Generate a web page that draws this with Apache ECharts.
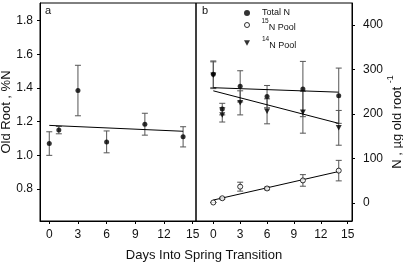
<!DOCTYPE html>
<html>
<head>
<meta charset="utf-8">
<script src="https://cdn.jsdelivr.net/npm/echarts@6/dist/echarts.min.js"></script>
<style>
html,body{margin:0;padding:0;background:#fff;}
#c{width:403px;height:263px;}
</style>
</head>
<body>
<div id="c"></div>
<script>
// ---- data ----
const days = [0, 1, 3, 6, 10, 14];
const pctN = [1.07, 1.15, 1.385, 1.08, 1.185, 1.11];
const pctNErr = [0.07, 0.022, 0.15, 0.065, 0.065, 0.06];
const totalN = [289, 211, 262, 239, 256, 241];
const totalNErr = [30, 13, 35, 25, 62, 62];
const n15 = [1.5, 11, 37, 33, 51, 73];
const n15Err = [0, 2, 10, 3, 13, 23];
const n14 = [287, 198, 225, 206, 204, 169];
const n14Err = [30, 16, 27, 28, 47, 39];
const pctNFit = [[0, 1.178], [14, 1.143]];
const totalNFit = [[0, 259], [14, 249]];
const n14Fit = [[0, 252], [14, 179]];
const n15Fit = [[0, 7], [14, 71]];
const xTicks = [0, 3, 6, 9, 12, 15];
const leftYTicks = [0.8, 1.0, 1.2, 1.4, 1.6, 1.8];
const rightYTicks = [0, 100, 200, 300, 400];

const FONT = 'Liberation Sans, Arial, sans-serif';
const pts = (ys) => days.map((d, i) => [d, ys[i]]);
const errs = (ys, es) => days.map((d, i) => [d, ys[i] - es[i], ys[i] + es[i]]);

function errRender(params, api) {
  const x = api.value(0), lo = api.value(1), hi = api.value(2);
  const p1 = api.coord([x, lo]), p2 = api.coord([x, hi]);
  const w = 3;
  const st = { stroke: '#555', lineWidth: 1 };
  return {
    type: 'group',
    children: [
      { type: 'line', shape: { x1: p1[0], y1: p1[1], x2: p2[0], y2: p2[1] }, style: st },
      { type: 'line', shape: { x1: p1[0] - w, y1: p1[1], x2: p1[0] + w, y2: p1[1] }, style: st },
      { type: 'line', shape: { x1: p2[0] - w, y1: p2[1], x2: p2[0] + w, y2: p2[1] }, style: st }
    ]
  };
}

const tri = 'path://M0,0L10,0L5,9Z';
const axisCommon = {
  axisLine: { show: true, onZero: false, lineStyle: { color: '#000', width: 1 } },
  splitLine: { show: false },
};

const xAxisBase = (gi, min, max) => Object.assign({
  type: 'value', gridIndex: gi, min: min, max: max,
  axisTick: { show: true, length: 3, inside: false, customValues: xTicks, lineStyle: { color: '#000' } },
  axisLabel: { customValues: xTicks, margin: 8, fontSize: 12, color: '#111', fontFamily: FONT },
}, axisCommon);

const lineSeries = (xi, data) => ({
  type: 'line', xAxisIndex: xi, yAxisIndex: xi, data: data, symbol: 'none',
  lineStyle: { color: '#000', width: 1 }, z: 3, silent: true, animation: false
});
const errSeries = (xi, data) => ({
  type: 'custom', xAxisIndex: xi, yAxisIndex: xi, data: data, renderItem: errRender,
  encode: { x: 0, y: [1, 2] }, z: 2, silent: true, animation: false
});

const legendRich = {
  p: { width: 7 },
  t: { fontSize: 9, fontFamily: FONT, color: '#111', lineHeight: 11 },
  sup: { fontSize: 6.5, fontFamily: FONT, color: '#111', lineHeight: 14, verticalAlign: 'top' },
  n: { fontSize: 9, fontFamily: FONT, color: '#111', lineHeight: 14, verticalAlign: 'bottom' }
};
const legendFmt = (name) => {
  if (name === 'Total N') return '{p|}{t|Total N}';
  if (name === '15N Pool') return '{p|}{sup|15}{n|N Pool}';
  return '{p|}{sup|14}{n|N Pool}';
};
const mkLegend = (name, top, extra) => Object.assign({
  data: [name], left: 244, top: top, orient: 'vertical', itemWidth: 6, itemHeight: 6,
  padding: 0, formatter: legendFmt, textStyle: { rich: legendRich }, selectedMode: false
}, extra || {});

const option = {
  animation: false,
  backgroundColor: '#fff',
  textStyle: { fontFamily: FONT },
  grid: [
    { left: 40, top: 3, width: 156, height: 218, show: true, borderColor: '#000', borderWidth: 1, backgroundColor: 'transparent' },
    { left: 196, top: 3, width: 156, height: 218, show: true, borderColor: '#000', borderWidth: 1, backgroundColor: 'transparent' }
  ],
  xAxis: [xAxisBase(0, -0.97, 15.35), xAxisBase(1, -1.93, 15.48)],
  yAxis: [
    Object.assign({
      type: 'value', gridIndex: 0, min: 0.61, max: 1.905, position: 'left',
      axisTick: { show: true, length: 3, customValues: leftYTicks, lineStyle: { color: '#000' } },
      axisLabel: { customValues: leftYTicks, margin: 7, fontSize: 12, color: '#111', fontFamily: FONT, formatter: v => v.toFixed(1) }
    }, axisCommon),
    Object.assign({
      type: 'value', gridIndex: 1, min: -40, max: 449, position: 'right',
      axisTick: { show: true, length: 3, customValues: rightYTicks, lineStyle: { color: '#000' } },
      axisLabel: { customValues: rightYTicks, margin: 11, fontSize: 12, color: '#111', fontFamily: FONT }
    }, axisCommon)
  ],
  legend: [
    mkLegend('Total N', 7),
    mkLegend('15N Pool', 18, { itemWidth: 5, itemHeight: 5, itemStyle: { borderWidth: 1, borderColor: '#000', color: '#fff' } }),
    mkLegend('14N Pool', 36)
  ],
  title: [
    { text: 'a', left: 45, top: 5, padding: 0, textStyle: { fontSize: 11, fontWeight: 'normal', color: '#111', fontFamily: FONT } },
    { text: 'b', left: 202, top: 5, padding: 0, textStyle: { fontSize: 11, fontWeight: 'normal', color: '#111', fontFamily: FONT } },
    { text: 'Days Into Spring Transition', left: 204, top: 249, textAlign: 'center', padding: 0, textStyle: { fontSize: 13, fontWeight: 'normal', color: '#111', fontFamily: FONT } }
  ],
  graphic: [
    { type: 'text', x: 6, y: 112, rotation: Math.PI / 2,
      style: { text: 'Old Root , %N', fill: '#111', font: '13px ' + FONT, align: 'center', verticalAlign: 'middle', textAlign: 'center', textVerticalAlign: 'middle' } },
    { type: 'text', x: 395, y: 122, rotation: Math.PI / 2,
      style: { text: '{m|N , µg old root }{s|-1}', fill: '#111', align: 'center', verticalAlign: 'middle', textAlign: 'center', textVerticalAlign: 'middle',
        rich: { m: { fontSize: 13, fontFamily: FONT, fill: '#111', lineHeight: 18, verticalAlign: 'bottom' },
                s: { fontSize: 9, fontFamily: FONT, fill: '#111', lineHeight: 18, verticalAlign: 'top' } } } }
  ],
  series: [
    lineSeries(0, pctNFit),
    errSeries(0, errs(pctN, pctNErr)),
    { name: '%N', type: 'scatter', xAxisIndex: 0, yAxisIndex: 0, data: pts(pctN), symbol: 'circle', symbolSize: 5,
      itemStyle: { color: '#000' }, z: 5 },
    lineSeries(1, totalNFit),
    lineSeries(1, n14Fit),
    lineSeries(1, n15Fit),
    errSeries(1, errs(totalN, totalNErr)),
    errSeries(1, errs(n14, n14Err)),
    errSeries(1, errs(n15, n15Err)),
    { name: '14N Pool', type: 'scatter', xAxisIndex: 1, yAxisIndex: 1, data: pts(n14), symbol: tri, symbolSize: [6, 5.5],
      itemStyle: { color: '#000' }, z: 5 },
    { name: 'Total N', type: 'scatter', xAxisIndex: 1, yAxisIndex: 1, data: pts(totalN), symbol: 'circle', symbolSize: 5,
      itemStyle: { color: '#000' }, z: 6 },
    { name: '15N Pool', type: 'scatter', xAxisIndex: 1, yAxisIndex: 1, data: pts(n15), symbol: 'circle', symbolSize: 5,
      itemStyle: { color: '#fff', borderColor: '#000', borderWidth: 1 }, z: 6 }
  ]
};
const chart = echarts.init(document.getElementById('c'), null, { renderer: 'canvas' });
chart.setOption(option);
</script>
</body>
</html>
